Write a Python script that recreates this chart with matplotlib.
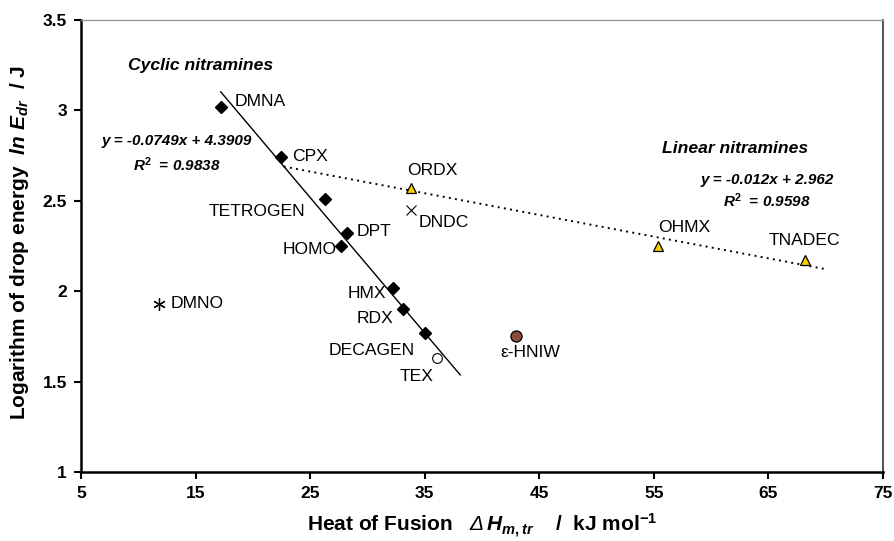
import numpy as np
import matplotlib
matplotlib.use("Agg")
import matplotlib.pyplot as plt

plt.rcParams['font.family'] = ['Liberation Sans', 'DejaVu Sans']
plt.rcParams['mathtext.fontset'] = 'custom'
plt.rcParams['mathtext.rm'] = 'Liberation Sans:bold'
plt.rcParams['mathtext.it'] = 'Liberation Sans:italic:bold'
plt.rcParams['mathtext.bf'] = 'Liberation Sans:bold'
plt.rcParams['mathtext.sf'] = 'Liberation Sans:italic'

# cyclic nitramines (black diamonds)
cyc_names = ['DMNA', 'CPX', 'TETROGEN', 'DPT', 'HOMO', 'HMX', 'RDX', 'DECAGEN']
cyc_x = [17.2, 22.5, 26.3, 28.2, 27.7, 32.2, 33.1, 35.0]
cyc_y = [3.02, 2.74, 2.51, 2.32, 2.25, 2.02, 1.90, 1.77]

# linear nitramines (yellow triangles)
lin_names = ['ORDX', 'OHMX', 'TNADEC']
lin_x = [33.8, 55.4, 68.2]
lin_y = [2.57, 2.25, 2.17]

# others
tex_x, tex_y = 36.1, 1.63
dndc_x, dndc_y = 33.8, 2.45
dmno_x, dmno_y = 11.8, 1.93
hniw_x, hniw_y = 43.0, 1.75

# trend lines
cyc_slope, cyc_icpt = -0.0749, 4.3909
cyc_range = [17.2, 38.1]
lin_slope, lin_icpt = -0.012, 2.962
lin_range = [22.7, 70.0]

fig = plt.figure(figsize=(8.95, 5.41), dpi=100)
ax = fig.add_axes([0.0905, 0.1275, 0.896, 0.8355])

xs = np.array(cyc_range)
ax.plot(xs, cyc_slope * xs + cyc_icpt, color='black', lw=1.0, zorder=2)
xs = np.array(lin_range)
ax.plot(xs, lin_slope * xs + lin_icpt, color='black', lw=1.4,
        linestyle=(0, (1.0, 2.2)), zorder=2)

ax.plot(cyc_x, cyc_y, 'D', color='black', markersize=6, zorder=3)
ax.plot(lin_x, lin_y, '^', markerfacecolor='#f5d000', markeredgecolor='black',
        markeredgewidth=0.9, markersize=7, zorder=3)
ax.plot(tex_x, tex_y, 'o', markerfacecolor='white', markeredgecolor='black',
        markeredgewidth=0.8, markersize=7, zorder=3)
ax.plot(dndc_x, dndc_y, 'x', color='black', markersize=7, markeredgewidth=0.8, zorder=3)
ax.plot(dmno_x, dmno_y, marker=(6, 2, 0), color='black', markersize=9,
        markeredgewidth=0.9, linestyle='none', zorder=3)
ax.plot(hniw_x, hniw_y, 'o', markerfacecolor='#8c4a3a', markeredgecolor='black',
        markeredgewidth=0.9, markersize=8, zorder=3)

# point labels
fs = 12.6
ax.text(18.4, 3.05, 'DMNA', fontsize=fs, ha='left', va='center')
ax.text(23.4, 2.745, 'CPX', fontsize=fs, ha='left', va='center')
ax.text(24.6, 2.44, 'TETROGEN', fontsize=fs, ha='right', va='center')
ax.text(29.1, 2.33, 'DPT', fontsize=fs, ha='left', va='center')
ax.text(27.3, 2.23, 'HOMO', fontsize=fs, ha='right', va='center')
ax.text(31.6, 1.99, 'HMX', fontsize=fs, ha='right', va='center')
ax.text(32.3, 1.85, 'RDX', fontsize=fs, ha='right', va='center')
ax.text(34.1, 1.67, 'DECAGEN', fontsize=fs, ha='right', va='center')
ax.text(35.8, 1.53, 'TEX', fontsize=fs, ha='right', va='center')
ax.text(33.5, 2.67, 'ORDX', fontsize=fs, ha='left', va='center')
ax.text(34.5, 2.38, 'DNDC', fontsize=fs, ha='left', va='center')
ax.text(12.8, 1.93, 'DMNO', fontsize=fs, ha='left', va='center')
ax.text(41.6, 1.66, 'ε-HNIW', fontsize=fs, ha='left', va='center')
ax.text(55.35, 2.35, 'OHMX', fontsize=fs, ha='left', va='center')
ax.text(65.0, 2.28, 'TNADEC', fontsize=fs, ha='left', va='center')

ax.text(9.1, 3.25, 'Cyclic nitramines', fontsize=12.6, fontweight='bold',
        style='italic', ha='left', va='center')
ax.text(55.7, 2.79, 'Linear nitramines', fontsize=12.6, fontweight='bold',
        style='italic', ha='left', va='center')
ax.text(13.35, 2.83, 'y = -0.0749x + 4.3909', fontsize=11, fontweight='bold',
        style='italic', ha='center', va='center')
ax.text(13.35, 2.70, 'R$^{2}$  = 0.9838', fontsize=11, fontweight='bold',
        style='italic', ha='center', va='center')
ax.text(64.9, 2.615, 'y = -0.012x + 2.962', fontsize=11, fontweight='bold',
        style='italic', ha='center', va='center')
ax.text(64.9, 2.50, 'R$^{2}$  = 0.9598', fontsize=11, fontweight='bold',
        style='italic', ha='center', va='center')

ax.set_xlim(5, 75)
ax.set_ylim(1, 3.5)
ax.set_xticks([5, 15, 25, 35, 45, 55, 65, 75])
ax.set_xticklabels(['5', '15', '25', '35', '45', '55', '65', '75'])
ax.set_yticks([1, 1.5, 2, 2.5, 3, 3.5])
ax.set_yticklabels(['1', '1.5', '2', '2.5', '3', '3.5'])
for lab in ax.get_xticklabels() + ax.get_yticklabels():
    lab.set_fontweight('bold')
    lab.set_fontsize(12.5)
ax.tick_params(direction='out', length=5, width=1.5, pad=5)

ax.spines['left'].set_linewidth(1.8)
ax.spines['bottom'].set_linewidth(1.8)
ax.spines['top'].set_color('#999999')
ax.spines['top'].set_linewidth(1.0)
ax.spines['right'].set_color('#333333')
ax.spines['right'].set_linewidth(1.2)

ax.set_xlabel(r'Heat of Fusion   $\mathsf{\Delta}\,\mathit{H}_{\mathit{m,tr}}$    /  kJ mol$^{-1}$',
              fontsize=15, fontweight='bold')
ax.set_ylabel(r'Logarithm of drop energy  $\mathit{ln\ E}_{\mathit{dr}}$  / J',
              fontsize=15, fontweight='bold')
ax.xaxis.set_label_coords(0.5, -0.088)
ax.yaxis.set_label_coords(-0.062, 0.507)

fig.savefig('out.png', dpi=100)
